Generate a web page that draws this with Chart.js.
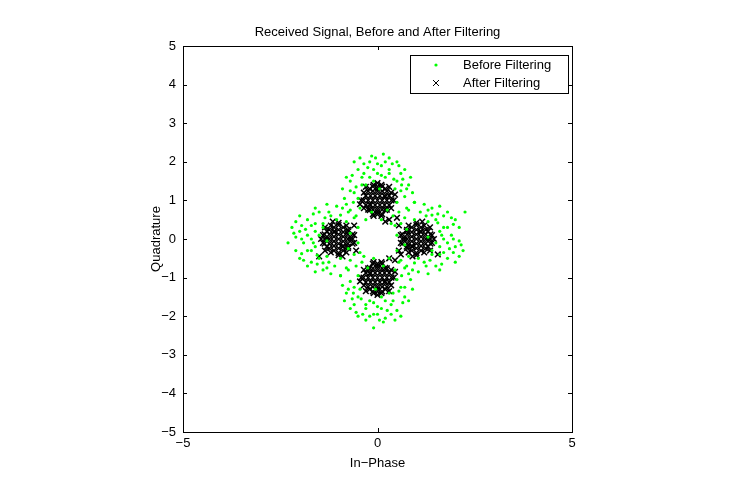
<!DOCTYPE html>
<html><head><meta charset="utf-8">
<script src="https://cdn.jsdelivr.net/npm/chart.js@4"></script>
<style>html,body{margin:0;padding:0;background:#fff}#wrap{width:741px;height:494px}</style>
</head><body><div id="wrap"><canvas id="c" width="741" height="494"></canvas></div>
<script>
const chartTitle = "Received Signal, Before and After Filtering";
const xLabel = "In\u2212Phase";
const yLabel = "Quadrature";
const seriesNames = ["Before Filtering", "After Filtering"];
const xTicks = [-5, 0, 5];
const yTicks = [-5,-4,-3,-2,-1,0,1,2,3,4,5];

const beforeTop = [[-0.6,1.2],[-0.4,1.6],[0.1,1.9],[0.5,1.5],[0.7,1.1],[-0.8,0.9],[0.3,2.1],[-0.2,2.0],[0.6,1.7],[-0.5,1.8],[0.8,1.4],[-0.7,1.5],[0.0,1.7],[0.4,0.6],[-0.3,0.5],[0.2,1.6],[-0.1,1.5],[0.9,1.2],[-0.9,1.3],[0.55,1.9],[-0.45,0.8],[0.35,0.4],[-0.65,1.65],[0.15,2.2],[-0.25,1.85],[0.75,0.8],[-0.85,1.05],[0.45,1.3],[-0.55,1.35],[0.05,1.3],[0.65,1.55],[-0.15,0.7],[0.25,0.75],[-0.35,1.95],[0.85,1.6],[-0.75,0.7],[0.1,0.5],[-0.05,2.1],[0.5,2.0],[-0.6,2.0],[0.3,1.8],[-0.3,1.4],[0.6,1.25],[-0.8,1.6],[0.95,0.95],[0.2,2.0],[-0.45,2.1],[0.7,1.8],[-0.5,1.05],[0.5,0.95],[-0.4,1.4],[0.42,1.55],[-0.2,1.6],[0.1,1.65],[-0.55,0.6],[0.55,0.7],[0.3,1.7],[-0.1,1.8],[-0.62,0.95],[0.62,1.4],[-0.35,1.7],[0.0,1.95],[0.38,1.95],[-0.7,1.25],[0.75,1.3],[-0.15,2.15]];
const beforeBottom = [[0.6,-1.25],[0.4,-1.6],[-0.1,-1.95],[-0.5,-1.5],[-0.7,-1.1],[0.8,-0.9],[-0.3,-2.1],[0.2,-2.05],[-0.6,-1.7],[0.5,-1.85],[-0.8,-1.4],[0.7,-1.5],[0.0,-1.75],[-0.4,-0.6],[0.3,-0.5],[-0.2,-1.6],[0.1,-1.5],[-0.9,-1.2],[0.9,-1.3],[-0.55,-1.9],[0.45,-0.8],[-0.35,-0.45],[0.65,-1.65],[-0.1,-2.3],[0.25,-1.85],[-0.75,-0.8],[0.85,-1.05],[-0.45,-1.3],[0.55,-1.35],[-0.05,-1.3],[-0.65,-1.55],[0.15,-0.7],[-0.25,-0.75],[0.35,-1.95],[-0.85,-1.6],[0.75,-0.7],[-0.1,-0.5],[0.05,-2.1],[-0.5,-2.0],[0.6,-2.0],[-0.3,-1.8],[0.3,-1.4],[-0.6,-1.25],[0.8,-1.6],[-0.95,-0.95],[-0.2,-2.0],[0.45,-2.1],[-0.7,-1.8],[0.5,-1.05],[-0.5,-0.95],[0.4,-1.4],[-0.42,-1.55],[0.2,-1.6],[-0.1,-1.65],[0.55,-0.6],[-0.55,-0.7],[-0.3,-1.7],[0.1,-1.8],[0.62,-0.95],[-0.62,-1.4],[0.35,-1.7],[0.0,-1.95],[-0.38,-1.95],[0.7,-1.25],[-0.75,-1.3],[0.15,-2.15]];
const beforeLeft = [[-1.2,0.6],[-1.6,0.4],[-1.9,-0.1],[-1.5,-0.5],[-1.1,-0.7],[-0.9,0.8],[-2.1,-0.3],[-2.0,0.2],[-1.7,-0.6],[-1.8,0.5],[-1.4,-0.8],[-1.5,0.7],[-1.7,0.0],[-0.6,-0.4],[-0.5,0.3],[-1.6,-0.2],[-1.5,0.1],[-1.2,-0.9],[-1.3,0.9],[-1.9,-0.55],[-0.8,0.45],[-0.45,-0.35],[-1.65,0.65],[-2.3,-0.1],[-1.85,0.25],[-0.8,-0.75],[-1.05,0.85],[-1.3,-0.45],[-1.35,0.55],[-1.3,-0.05],[-1.55,-0.65],[-0.7,0.15],[-0.75,-0.25],[-1.95,0.35],[-1.6,-0.85],[-0.7,0.75],[-0.5,-0.1],[-2.1,0.05],[-2.0,-0.5],[-2.0,0.6],[-1.8,-0.3],[-1.4,0.3],[-1.25,-0.6],[-1.6,0.8],[-0.95,-0.95],[-2.2,0.3],[-2.1,0.45],[-1.8,-0.7],[-1.05,0.5],[-0.95,-0.5],[-1.4,0.4],[-1.55,-0.42],[-1.6,0.2],[-1.65,-0.1],[-0.6,0.55],[-0.7,-0.55],[-1.7,-0.3],[-1.8,0.1],[-0.95,0.62],[-1.4,-0.62],[-1.7,0.35],[-1.95,0.0],[-1.95,-0.38],[-1.25,0.7],[-1.3,-0.75],[-2.15,0.15]];
const beforeRight = [[1.2,-0.6],[1.6,-0.4],[1.9,0.1],[1.5,0.5],[1.1,0.7],[0.9,-0.8],[2.1,0.3],[2.0,-0.2],[1.7,0.6],[1.8,-0.5],[1.4,0.8],[1.5,-0.7],[1.7,0.0],[0.6,0.4],[0.5,-0.3],[1.6,0.2],[1.5,-0.1],[1.2,0.9],[1.3,-0.9],[1.9,0.55],[0.8,-0.45],[0.45,0.35],[1.65,-0.65],[2.25,0.7],[1.85,-0.25],[0.8,0.75],[1.05,-0.85],[1.3,0.45],[1.35,-0.55],[1.3,0.05],[1.55,0.65],[0.7,-0.15],[0.75,0.25],[1.95,-0.35],[1.6,0.85],[0.7,-0.75],[0.5,0.1],[2.1,-0.05],[2.0,0.5],[2.0,-0.6],[1.8,0.3],[1.4,-0.3],[1.25,0.6],[1.6,-0.8],[0.95,0.95],[2.2,-0.3],[2.1,-0.45],[1.8,0.7],[1.05,-0.5],[0.95,0.5],[1.4,-0.4],[1.55,0.42],[1.6,-0.2],[1.65,0.1],[0.6,-0.55],[0.7,0.55],[1.7,0.3],[1.8,-0.1],[0.95,-0.62],[1.4,0.62],[1.7,-0.35],[1.95,0.0],[1.95,0.38],[1.25,-0.7],[1.3,0.75],[2.15,-0.15]];

const afterTop = [[0,1],[0.2,1.1],[-0.2,0.9],[0.0,1.3],[0.0,0.7],[0.2,1.3],[-0.2,1.3],[0.2,0.75],[-0.2,0.75],[0.35,1.2],[-0.35,1.2],[0.35,0.8],[-0.35,0.8],[0.1,1.4],[-0.1,1.4],[0.1,0.6],[-0.1,0.6],[0.42,1.0],[-0.42,1.0],[0.45,1.15],[-0.45,0.9],[0.3,0.5],[0.5,0.55],[0.2,0.45],[0.0,1.45],[0.3,1.35],[-0.3,1.35],
[-0.36,1.0],[-0.24,1.0],[-0.12,1.0],[0.12,1.0],[0.24,1.0],[0.36,1.0],[-0.3,1.12],[-0.18,1.12],[-0.06,1.12],[0.06,1.12],[0.18,1.12],[0.3,1.12],[-0.3,0.88],[-0.18,0.88],[-0.06,0.88],[0.06,0.88],[0.18,0.88],[0.3,0.88],[-0.24,1.24],[-0.12,1.24],[0,1.24],[0.12,1.24],[0.24,1.24],[-0.24,0.76],[-0.12,0.76],[0,0.76],[0.12,0.76],[0.24,0.76],[-0.12,1.36],[0.0,1.36],[0.12,1.36],[-0.12,0.64],[0,0.64],[0.12,0.64]];
const afterBottom = [[0,-1],[0.2,-1.1],[-0.2,-0.9],[0.0,-1.3],[0.0,-0.7],[0.2,-1.3],[-0.2,-1.3],[0.2,-0.75],[-0.2,-0.75],[0.35,-1.2],[-0.35,-1.2],[0.35,-0.8],[-0.35,-0.8],[0.1,-1.4],[-0.1,-1.4],[0.1,-0.6],[-0.1,-0.6],[0.42,-1.0],[-0.42,-1.0],[0.45,-0.85],[-0.45,-1.1],[0.45,-0.55],[0.6,-0.4],[0.3,-0.5],[0.0,-1.45],[0.3,-1.35],[-0.3,-1.35],
[-0.36,-1.0],[-0.24,-1.0],[-0.12,-1.0],[0.12,-1.0],[0.24,-1.0],[0.36,-1.0],[-0.3,-1.12],[-0.18,-1.12],[-0.06,-1.12],[0.06,-1.12],[0.18,-1.12],[0.3,-1.12],[-0.3,-0.88],[-0.18,-0.88],[-0.06,-0.88],[0.06,-0.88],[0.18,-0.88],[0.3,-0.88],[-0.24,-1.24],[-0.12,-1.24],[0,-1.24],[0.12,-1.24],[0.24,-1.24],[-0.24,-0.76],[-0.12,-0.76],[0,-0.76],[0.12,-0.76],[0.24,-0.76],[-0.12,-1.36],[0.0,-1.36],[0.12,-1.36],[-0.12,-0.64],[0,-0.64],[0.12,-0.64]];
const afterLeft = [[-1,0],[-1.1,0.2],[-0.9,-0.2],[-1.3,0.0],[-0.7,0.0],[-1.3,0.2],[-1.3,-0.2],[-0.75,0.2],[-0.75,-0.2],[-1.2,0.35],[-1.2,-0.35],[-0.8,0.35],[-0.8,-0.35],[-1.4,0.1],[-1.4,-0.1],[-0.6,0.1],[-0.6,-0.1],[-1.0,0.42],[-1.0,-0.42],[-1.15,0.45],[-0.9,-0.45],[-0.6,0.35],[-1.45,0.0],[-1.35,0.3],[-1.35,-0.3],[-0.55,-0.3],[-1.5,-0.45],
[-1.0,-0.36],[-1.0,-0.24],[-1.0,-0.12],[-1.0,0.12],[-1.0,0.24],[-1.0,0.36],[-1.12,-0.3],[-1.12,-0.18],[-1.12,-0.06],[-1.12,0.06],[-1.12,0.18],[-1.12,0.3],[-0.88,-0.3],[-0.88,-0.18],[-0.88,-0.06],[-0.88,0.06],[-0.88,0.18],[-0.88,0.3],[-1.24,-0.24],[-1.24,-0.12],[-1.24,0],[-1.24,0.12],[-1.24,0.24],[-0.76,-0.24],[-0.76,-0.12],[-0.76,0],[-0.76,0.12],[-0.76,0.24],[-1.36,-0.12],[-1.36,0],[-1.36,0.12],[-0.64,-0.12],[-0.64,0],[-0.64,0.12]];
const afterRight = [[1,0],[1.1,0.2],[0.9,-0.2],[1.3,0.0],[0.7,0.0],[1.3,0.2],[1.3,-0.2],[0.75,0.2],[0.75,-0.2],[1.2,0.35],[1.2,-0.35],[0.8,0.35],[0.8,-0.35],[1.4,0.1],[1.4,-0.1],[0.6,0.1],[0.6,-0.1],[1.0,0.42],[1.0,-0.42],[1.15,0.45],[0.9,-0.45],[0.55,0.35],[1.45,0.0],[1.35,0.3],[1.35,-0.3],[0.55,-0.3],[1.55,-0.4],
[1.0,-0.36],[1.0,-0.24],[1.0,-0.12],[1.0,0.12],[1.0,0.24],[1.0,0.36],[1.12,-0.3],[1.12,-0.18],[1.12,-0.06],[1.12,0.06],[1.12,0.18],[1.12,0.3],[0.88,-0.3],[0.88,-0.18],[0.88,-0.06],[0.88,0.06],[0.88,0.18],[0.88,0.3],[1.24,-0.24],[1.24,-0.12],[1.24,0],[1.24,0.12],[1.24,0.24],[0.76,-0.24],[0.76,-0.12],[0.76,0],[0.76,0.12],[0.76,0.24],[1.36,-0.12],[1.36,0],[1.36,0.12],[0.64,-0.12],[0.64,0],[0.64,0.12]];

const toPts = a => a.map(p => ({x: p[0], y: p[1]}));
const before = [...beforeTop, ...beforeBottom, ...beforeLeft, ...beforeRight];
const after = [...afterTop, ...afterBottom, ...afterLeft, ...afterRight];

const FONT = "'Liberation Sans', Arial, sans-serif";
const frame = {
  id: 'frame',
  afterDraw(ch) {
    const c = ch.ctx, a = ch.chartArea, xs = ch.scales.x, ys = ch.scales.y;
    c.save();
    c.strokeStyle = '#000'; c.lineWidth = 1;
    c.strokeRect(Math.round(a.left)+0.5, Math.round(a.top)+0.5, Math.round(a.right-a.left), Math.round(a.bottom-a.top));
    c.beginPath();
    xTicks.forEach(v => { const px = Math.round(xs.getPixelForValue(v))+0.5;
      c.moveTo(px, a.bottom); c.lineTo(px, a.bottom-4); c.moveTo(px, a.top); c.lineTo(px, a.top+4); });
    yTicks.forEach(v => { const py = Math.round(ys.getPixelForValue(v))+0.5;
      c.moveTo(a.left, py); c.lineTo(a.left+4, py); c.moveTo(a.right, py); c.lineTo(a.right-4, py); });
    c.stroke();
    c.fillStyle = '#000'; c.font = '13px ' + FONT;
    c.textAlign = 'center'; c.textBaseline = 'top';
    xTicks.forEach(v => c.fillText(String(v).replace('-', '\u2212'), xs.getPixelForValue(v), a.bottom + 5));
    c.textAlign = 'right'; c.textBaseline = 'middle';
    yTicks.forEach(v => c.fillText(String(v).replace('-', '\u2212'), a.left - 7, ys.getPixelForValue(v)));
    c.textAlign = 'center'; c.textBaseline = 'alphabetic';
    c.fillText(chartTitle, (a.left + a.right) / 2, 36);
    c.fillText(xLabel, (a.left + a.right) / 2, 467);
    c.save(); c.translate(160, (a.top + a.bottom) / 2); c.rotate(-Math.PI/2);
    c.fillText(yLabel, 0, 0); c.restore();
    const lx = 410.5, ly = 55.5, lw = 158, lh = 38;
    c.fillStyle = '#fff'; c.fillRect(lx, ly, lw, lh); c.strokeRect(lx, ly, lw, lh);
    c.fillStyle = '#00ff00'; c.beginPath(); c.arc(436, 65, 1.6, 0, Math.PI*2); c.fill();
    c.strokeStyle = '#000'; c.beginPath();
    c.moveTo(433, 80); c.lineTo(439, 86); c.moveTo(439, 80); c.lineTo(433, 86); c.stroke();
    c.fillStyle = '#000'; c.textAlign = 'left'; c.textBaseline = 'middle';
    c.fillText(seriesNames[0], 463, 65); c.fillText(seriesNames[1], 463, 83);
    c.restore();
  }
};

new Chart(document.getElementById('c'), {
  type: 'scatter',
  data: { datasets: [
    { label: seriesNames[0], data: toPts(before), backgroundColor: '#00ff00', borderColor: '#00ff00', pointRadius: 1.6, borderWidth: 0, pointStyle: 'circle' },
    { label: seriesNames[1], data: toPts(after), backgroundColor: '#000', borderColor: '#000', pointRadius: 4, borderWidth: 1.5, pointStyle: 'crossRot' }
  ]},
  options: {
    responsive: false, animation: false, devicePixelRatio: 1,
    layout: { padding: { top: 46, right: 169, left: 0, bottom: 0 } },
    plugins: { legend: { display: false }, title: { display: false }, tooltip: { enabled: false } },
    scales: {
      x: { type: 'linear', min: -5, max: 5, grid: { display: false }, border: { display: false },
           ticks: { display: false }, afterFit(s) { s.height = 62; } },
      y: { type: 'linear', min: -5, max: 5, grid: { display: false }, border: { display: false },
           ticks: { display: false }, afterFit(s) { s.width = 183; } }
    }
  },
  plugins: [frame]
});
</script></body></html>
